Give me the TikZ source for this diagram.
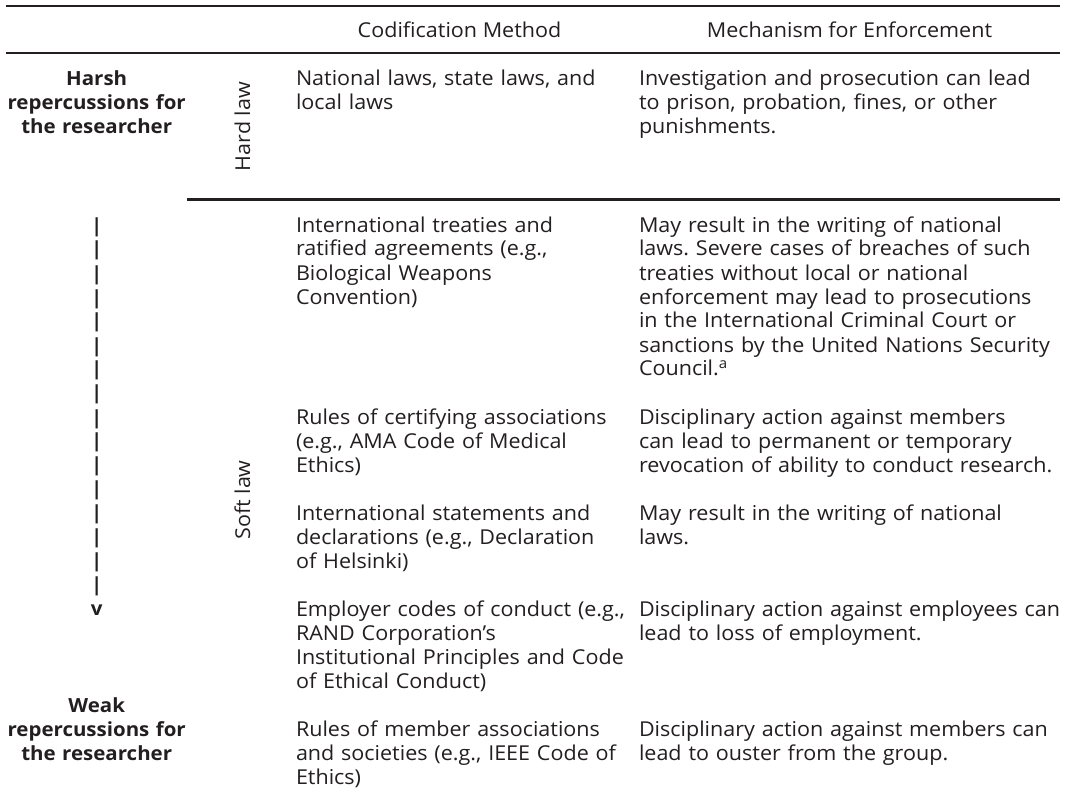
\documentclass[tikz,border=0pt]{standalone}
\usepackage{fontspec}
\setmainfont{Open Sans}[FakeStretch=1.05]
\definecolor{ink}{HTML}{231F20}
\frenchspacing
\begin{document}
\begin{tikzpicture}[x=1pt,y=-1pt,
  body/.style={font=\fontsize{20.5}{24}\selectfont, text=ink, inner sep=0pt, outer sep=0pt},
  cell/.style={body, anchor=base west, text width=#1, align=left},
  head/.style={body, anchor=base},
  side/.style={body, font=\fontsize{19.5}{24}\selectfont\bfseries, anchor=base, text width=200pt, align=center},
  kind/.style={body, anchor=base, rotate=90},
  rulel/.style={draw=ink, line width=2.5pt}]
\useasboundingbox (0,0) rectangle (1066,797);
% rules
\coordinate (t1) at (6,6);   \coordinate (t2) at (1060,6);
\coordinate (m1) at (6,53);  \coordinate (m2) at (1060,53);
\coordinate (s1) at (187,199.5); \coordinate (s2) at (1060,199.5);
\draw[rulel] (t1) -- (t2);
\draw[rulel] (m1) -- (m2);
\draw[rulel] (s1) -- (s2);
% header
\node[head] (h1) at (459.5,38) {Codification Method};
\node[head] (h2) at (849.5,38) {Mechanism for Enforcement};
% left column
\node[side] (harsh) at (96.7,86) {Harsh\\repercussions for\\the researcher};
\node[side] (scale) at (96.7,232) {|\\|\\|\\|\\|\\|\\|\\|\\|\\|\\|\\|\\|\\|\\|\\|\\v};
\node[side] (weak) at (96.7,712) {Weak\\repercussions for\\the researcher};
% kinds
\node[kind] (hard) at (250,126.5) {Hard law};
\node[kind] (soft) at (250,500) {Soft law};
% codification column
\node[cell=340pt] (c1) at (296,86) {National laws, state laws, and\\local laws};
\node[cell=340pt] (c2) at (296,232) {International treaties and\\ratified agreements (e.g.,\\Biological Weapons\\Convention)};
\node[cell=340pt] (c3) at (296,424) {Rules of certifying associations\\(e.g., AMA Code of Medical\\Ethics)};
\node[cell=340pt] (c4) at (296,520) {International statements and\\declarations (e.g., Declaration\\of Helsinki)};
\node[cell=340pt] (c5) at (296,616) {Employer codes of conduct (e.g.,\\RAND Corporation’s\\Institutional Principles and Code\\of Ethical Conduct)};
\node[cell=340pt] (c6) at (296,736) {Rules of member associations\\and societies (e.g., IEEE Code of\\Ethics)};
% enforcement column
\node[cell=440pt] (e1) at (639,86) {Investigation and prosecution can lead\\to prison, probation, fines, or other\\punishments.};
\node[cell=440pt] (e2) at (639,232) {May result in the writing of national\\laws. Severe cases of breaches of such\\treaties without local or national\\enforcement may lead to prosecutions\\in the International Criminal Court or\\sanctions by the United Nations Security\\Council.\textsuperscript{a}};
\node[cell=440pt] (e3) at (639,424) {Disciplinary action against members\\can lead to permanent or temporary\\revocation of ability to conduct research.};
\node[cell=440pt] (e4) at (639,520) {May result in the writing of national\\laws.};
\node[cell=440pt] (e5) at (639,616) {Disciplinary action against employees can\\lead to loss of employment.};
\node[cell=440pt] (e6) at (639,736) {Disciplinary action against members can\\lead to ouster from the group.};
\end{tikzpicture}
\end{document}
